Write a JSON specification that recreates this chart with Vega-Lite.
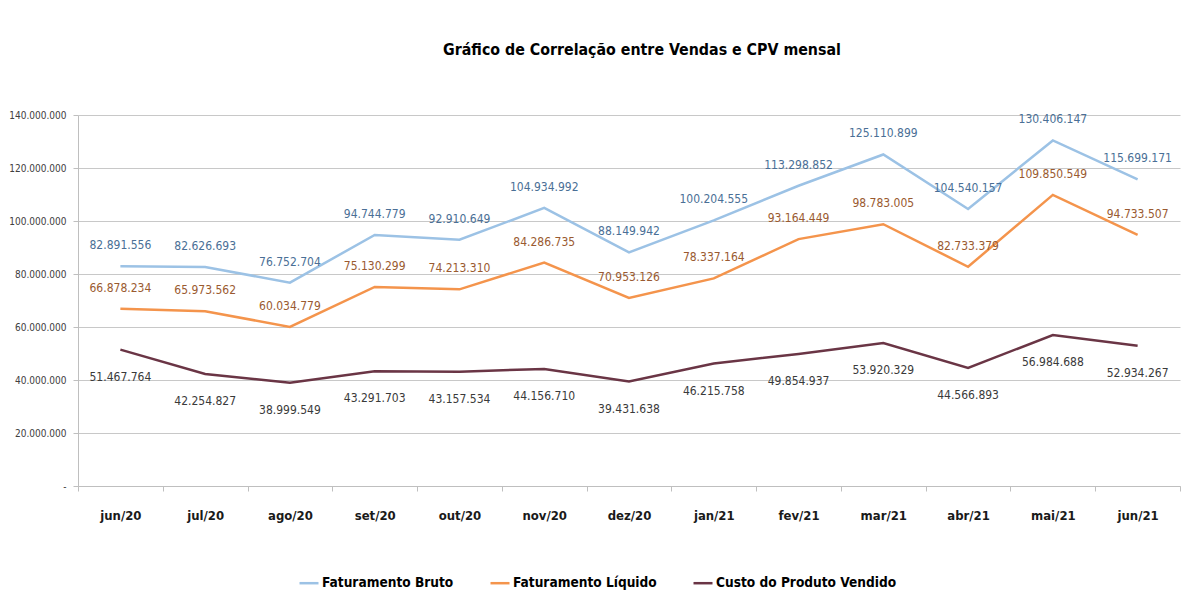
{
  "$schema": "https://vega.github.io/schema/vega-lite/v6.json",
  "width": 1102,
  "height": 371,
  "autosize": {"type": "none"},
  "padding": {"left": 78, "top": 115, "right": 1, "bottom": 119},
  "background": "white",
  "config": {
    "locale": {"number": {"decimal": ",", "thousands": ".", "grouping": [3], "currency": ["R$", ""]}},
    "view": {"stroke": null},
    "font": "DejaVu Sans Condensed, sans-serif"
  },
  "title": {
    "text": "Gráfico de Correlação entre Vendas e CPV mensal",
    "fontSize": 15.8,
    "fontWeight": "bold",
    "font": "DejaVu Sans Condensed, sans-serif",
    "color": "#000000",
    "anchor": "middle",
    "offset": 51,
    "dx": 13
  },
  "data": {
    "values": [
      {"mes": "jun/20", "serie": "Faturamento Bruto", "valor": 82891556},
      {"mes": "jul/20", "serie": "Faturamento Bruto", "valor": 82626693},
      {"mes": "ago/20", "serie": "Faturamento Bruto", "valor": 76752704},
      {"mes": "set/20", "serie": "Faturamento Bruto", "valor": 94744779},
      {"mes": "out/20", "serie": "Faturamento Bruto", "valor": 92910649},
      {"mes": "nov/20", "serie": "Faturamento Bruto", "valor": 104934992},
      {"mes": "dez/20", "serie": "Faturamento Bruto", "valor": 88149942},
      {"mes": "jan/21", "serie": "Faturamento Bruto", "valor": 100204555},
      {"mes": "fev/21", "serie": "Faturamento Bruto", "valor": 113298852},
      {"mes": "mar/21", "serie": "Faturamento Bruto", "valor": 125110899},
      {"mes": "abr/21", "serie": "Faturamento Bruto", "valor": 104540157},
      {"mes": "mai/21", "serie": "Faturamento Bruto", "valor": 130406147},
      {"mes": "jun/21", "serie": "Faturamento Bruto", "valor": 115699171},
      {"mes": "jun/20", "serie": "Faturamento Líquido", "valor": 66878234},
      {"mes": "jul/20", "serie": "Faturamento Líquido", "valor": 65973562},
      {"mes": "ago/20", "serie": "Faturamento Líquido", "valor": 60034779},
      {"mes": "set/20", "serie": "Faturamento Líquido", "valor": 75130299},
      {"mes": "out/20", "serie": "Faturamento Líquido", "valor": 74213310},
      {"mes": "nov/20", "serie": "Faturamento Líquido", "valor": 84286735},
      {"mes": "dez/20", "serie": "Faturamento Líquido", "valor": 70953126},
      {"mes": "jan/21", "serie": "Faturamento Líquido", "valor": 78337164},
      {"mes": "fev/21", "serie": "Faturamento Líquido", "valor": 93164449},
      {"mes": "mar/21", "serie": "Faturamento Líquido", "valor": 98783005},
      {"mes": "abr/21", "serie": "Faturamento Líquido", "valor": 82733379},
      {"mes": "mai/21", "serie": "Faturamento Líquido", "valor": 109850549},
      {"mes": "jun/21", "serie": "Faturamento Líquido", "valor": 94733507},
      {"mes": "jun/20", "serie": "Custo do Produto Vendido", "valor": 51467764},
      {"mes": "jul/20", "serie": "Custo do Produto Vendido", "valor": 42254827},
      {"mes": "ago/20", "serie": "Custo do Produto Vendido", "valor": 38999549},
      {"mes": "set/20", "serie": "Custo do Produto Vendido", "valor": 43291703},
      {"mes": "out/20", "serie": "Custo do Produto Vendido", "valor": 43157534},
      {"mes": "nov/20", "serie": "Custo do Produto Vendido", "valor": 44156710},
      {"mes": "dez/20", "serie": "Custo do Produto Vendido", "valor": 39431638},
      {"mes": "jan/21", "serie": "Custo do Produto Vendido", "valor": 46215758},
      {"mes": "fev/21", "serie": "Custo do Produto Vendido", "valor": 49854937},
      {"mes": "mar/21", "serie": "Custo do Produto Vendido", "valor": 53920329},
      {"mes": "abr/21", "serie": "Custo do Produto Vendido", "valor": 44566893},
      {"mes": "mai/21", "serie": "Custo do Produto Vendido", "valor": 56984688},
      {"mes": "jun/21", "serie": "Custo do Produto Vendido", "valor": 52934267}
    ]
  },
  "encoding": {
    "x": {
      "field": "mes",
      "type": "ordinal",
      "sort": ["jun/20", "jul/20", "ago/20", "set/20", "out/20", "nov/20", "dez/20", "jan/21", "fev/21", "mar/21", "abr/21", "mai/21", "jun/21"],
      "scale": {"type": "band", "paddingInner": 0, "paddingOuter": 0},
      "bandPosition": 0.5,
      "title": null,
      "axis": {
        "labelAngle": 0,
        "labelFontSize": 13,
        "labelFontWeight": "bold",
        "labelColor": "#1a1a1a",
        "labelPadding": 18,
        "tickBand": "extent",
        "tickSize": 5,
        "tickColor": "#bfbfbf",
        "domainColor": "#bfbfbf",
        "grid": false
      }
    },
    "y": {
      "field": "valor",
      "type": "quantitative",
      "scale": {"domain": [0, 140000000]},
      "title": null,
      "axis": {
        "values": [0, 20000000, 40000000, 60000000, 80000000, 100000000, 120000000, 140000000],
        "labelExpr": "datum.value == 0 ? '-' : format(datum.value, ',.0f')",
        "labelFontSize": 10,
        "labelColor": "#404040",
        "labelPadding": 7,
        "tickSize": 5,
        "tickColor": "#bfbfbf",
        "domainColor": "#bfbfbf",
        "gridColor": "#c8c8c8",
        "grid": true
      }
    }
  },
  "layer": [
    {
      "mark": {"type": "line", "strokeWidth": 2.5},
      "encoding": {
        "color": {
          "field": "serie",
          "type": "nominal",
          "scale": {
            "domain": ["Faturamento Bruto", "Faturamento Líquido", "Custo do Produto Vendido"],
            "range": ["#9cc2e5", "#f4944c", "#6a3545"]
          },
          "legend": {
            "title": null,
            "orient": "none",
            "legendX": 220,
            "legendY": 457,
            "direction": "horizontal",
            "symbolType": "stroke",
            "symbolStrokeWidth": 2.5,
            "symbolSize": 361,
            "labelFontSize": 13.6,
            "labelFontWeight": "bold",
            "labelColor": "#000000",
            "labelOffset": 2,
            "labelLimit": 0,
            "columnPadding": 31
          }
        }
      }
    },
    {
      "transform": [{"filter": "datum.serie == 'Faturamento Bruto'"}],
      "mark": {"type": "text", "dy": -21, "fontSize": 12, "color": "#4a6f96"},
      "encoding": {"text": {"field": "valor", "type": "quantitative", "format": ",.0f"}}
    },
    {
      "transform": [{"filter": "datum.serie == 'Faturamento Líquido'"}],
      "mark": {"type": "text", "dy": -21, "fontSize": 12, "color": "#9a5a30"},
      "encoding": {"text": {"field": "valor", "type": "quantitative", "format": ",.0f"}}
    },
    {
      "transform": [{"filter": "datum.serie == 'Custo do Produto Vendido'"}],
      "mark": {"type": "text", "dy": 27, "fontSize": 12, "color": "#3a3a3a"},
      "encoding": {"text": {"field": "valor", "type": "quantitative", "format": ",.0f"}}
    }
  ]
}
